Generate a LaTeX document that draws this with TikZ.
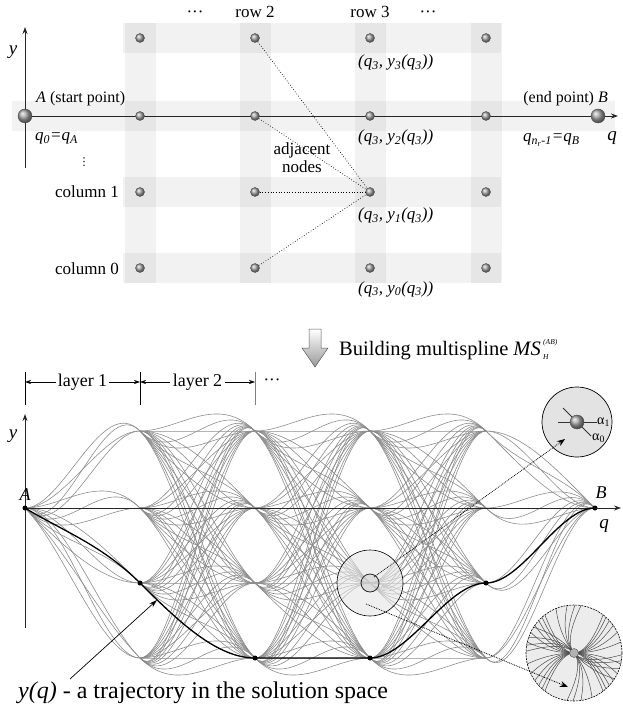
\documentclass[tikz,border=0pt]{standalone}
\usepackage{fontspec}
\setmainfont{Liberation Serif}
\newfontfamily\dejavu{DejaVu Sans}
\usetikzlibrary{arrows.meta}
\newcommand\fsz[1]{\fontsize{#1}{#1}\selectfont}
\newcommand\qlab[1]{\textit{(q\textsubscript{3}, y\textsubscript{#1}(q\textsubscript{3}))}}
\begin{document}
\begin{tikzpicture}[x=1pt,y=-1pt,
  gband/.style={fill=black,fill opacity=0.05},
  ballnode/.style={circle,inner sep=0pt,minimum size=9pt,ball color=gray!70,draw=black!70,line width=0.4pt},
  bigball/.style={ballnode,minimum size=14pt},
  lbl/.style={inner sep=0pt,font=\fsz{17}},
  axisline/.style={line width=0.9pt,black!85,-{Stealth[length=7pt,width=5pt]}},
  adj/.style={dotted,line width=0.7pt},
  gcurve/.style={gray!90,line width=0.6pt},
  darkcurve/.style={black!70,line width=0.5pt},
  traj/.style={black,line width=1.3pt},
  blackdot/.style={circle,fill=black,inner sep=0pt,minimum size=5pt},
  dotarrow/.style={densely dotted,line width=0.8pt,-{Stealth[length=8pt,width=6pt]}},
  layarrow/.style={line width=0.6pt,-{Stealth[length=6pt,width=4pt]}},
]
\useasboundingbox (0,0) rectangle (622,708);

% ---------------- top grid ----------------
\fill[gband] (12,101) rectangle (615,131);
\foreach \y in {38,192,268} \fill[gband] (123,{\y-15}) rectangle (501,{\y+15});
\foreach \x in {140,255,370,486} \fill[gband] ({\x-15.5},23) rectangle ({\x+15.5},283);

\coordinate (ytop) at (25,27);
\coordinate (ybot) at (25,168);
\draw[axisline] (ybot) -- (ytop);
\coordinate (Aorig) at (25,116);
\coordinate (qend) at (618,116);
\draw[axisline] (Aorig) -- (qend);

\node[bigball] (A) at (Aorig) {};
\node[bigball] (B) at (598,116) {};
\foreach \c/\x in {1/140,2/255,3/370,4/486}
  \foreach \r/\y in {3/38,2/116,1/192,0/268}
    \node[ballnode] (n\c\r) at (\x,\y) {};

\foreach \r in {3,2,1,0} \draw[adj] (n2\r) -- (n31);

\node[lbl,anchor=base] at (195,18) {···};
\node[lbl,anchor=base] at (255,18) {row 2};
\node[lbl,anchor=base] at (370,18) {row 3};
\node[lbl,anchor=base] at (428,18) {···};
\node[lbl,font=\fsz{19}\itshape] at (13,52) {y};
\node[lbl,anchor=base west,font=\fsz{16}] at (36,103) {\textit{A} (start point)};
\node[lbl,anchor=base west,font=\fsz{17}\itshape] at (35,141) {q\textsubscript{0}=q\textsubscript{A}};
\node[lbl,font=\dejavu\fsz{11}] at (84,162) {⋮};
\node[lbl,anchor=base east] at (119,198) {column 1};
\node[lbl,anchor=base east] at (119,274) {column 0};
\node[lbl,anchor=base] at (302,155) {adjacent};
\node[lbl,anchor=base] at (302,173) {nodes};
\node[lbl,anchor=base west] at (358,67) {\qlab{3}};
\node[lbl,anchor=base west] at (358,142) {\qlab{2}};
\node[lbl,anchor=base west] at (358,220) {\qlab{1}};
\node[lbl,anchor=base west] at (358,293) {\qlab{0}};
\node[lbl,anchor=base east,font=\fsz{16}] at (608,103) {(end point) \textit{B}};
\node[lbl,anchor=base west,font=\fsz{17}\itshape] at (523,142) {q\textsubscript{n\textsubscript{r}-1}=q\textsubscript{B}};
\node[lbl,anchor=base,font=\fsz{19}\itshape] at (612,141) {q};

% ---------------- block arrow ----------------
\shade[top color=white,bottom color=gray!80,draw=gray!70!black,line width=0.5pt]
  (309,329) -- (321,329) -- (321,348) -- (328,348) -- (315,367) -- (302,348) -- (309,348) -- cycle;
\node[lbl,anchor=base west,font=\fsz{20.5}] (build) at (339,355)
  {Building multispline \textit{MS}};
\node[lbl,anchor=base west,font=\fsz{7.5}\itshape] (bsup) at ([xshift=2pt,yshift=11pt]build.base east) {(AB)};
\node[lbl,anchor=base west,font=\fsz{7.5}\itshape] (bsub) at ([xshift=2pt,yshift=-4pt]build.base east) {H};

% ---------------- layers ----------------
\coordinate (b0t) at (25,372); \coordinate (b0b) at (25,405); \coordinate (b0m) at (25,382);
\coordinate (b1t) at (140,372); \coordinate (b1b) at (140,405); \coordinate (b1m) at (140,382);
\coordinate (b2t) at (255,372); \coordinate (b2b) at (255,405); \coordinate (b2m) at (255,382);
\draw[line width=0.7pt] (b0t) -- (b0b);
\draw[line width=0.7pt] (b1t) -- (b1b);
\draw[line width=0.9pt,gray] (b2t) -- (b2b);
\node[lbl,font=\fsz{18},inner sep=2pt] (L1) at (82.5,382) {layer 1};
\node[lbl,font=\fsz{18},inner sep=3pt] (L2) at (197.5,382) {layer 2};
\draw[layarrow] (L1.west) -- (b0m);
\draw[layarrow] (L1.east) -- (b1m);
\draw[layarrow] (L2.west) -- (b1m);
\draw[layarrow] (L2.east) -- (b2m);
\node[lbl,font=\fsz{17}] at (272,382) {···};

% ---------------- gray spline network ----------------
\foreach \yb in {431,508,583,658}
 \foreach \ma in {0,-1}
  \foreach \mb in {0,-1}
   \draw[gcurve] (25,508) .. controls ({25+38.33},{508-\ma*38.33}) and ({140-38.33},{\yb+\mb*38.33}) .. (140,\yb);
\foreach \xa/\xb in {140/255,255/370,370/486}
 \foreach \ya in {431,508,583,658}
  \foreach \yb in {431,508,583,658}
   \foreach \ma in {0,-1}
    \foreach \mb in {0,-1}
     \draw[gcurve] (\xa,\ya) .. controls ({\xa+38.33},{\ya-\ma*38.33}) and ({\xb-38.33},{\yb+\mb*38.33}) .. (\xb,\yb);
\foreach \ya in {431,508,583,658}
 \foreach \ma in {0,-1}
  \foreach \mb in {0,-1}
   \draw[gcurve] (486,\ya) .. controls ({486+36.33},{\ya-\ma*36.33}) and ({595-36.33},{508+\mb*36.33}) .. (595,508);

% middle magnifier
\node[circle,minimum size=66pt,inner sep=0pt,draw=black,fill=gray!20,fill opacity=0.6,line width=0.6pt] (mag2) at (370,583) {};
\node[circle,minimum size=18pt,inner sep=0pt,draw=black!85,fill=gray!40,fill opacity=0.5,line width=0.8pt] (mag2s) at (370,583) {};

% axes
\coordinate (ybot2) at (25,628);
\coordinate (ytop2) at (25,414);
\draw[axisline] (ybot2) -- (ytop2);
\node[blackdot] (A2) at (25,508) {};
\node[blackdot] (B2) at (595,508) {};
\coordinate (qend2) at (621,508);
\draw[axisline] (A2.center) -- (qend2);

% trajectory
\node[blackdot] (t1) at (140,583) {};
\node[blackdot] (t2) at (255,658) {};
\node[blackdot] (t3) at (370,658) {};
\node[blackdot] (t4) at (486,583) {};
\draw[traj] (A2.center) .. controls (63,531) and (102,545) .. (t1.center)
  .. controls (178.3,621.3) and (216.7,658) .. (t2.center) -- (t3.center)
  .. controls (408.7,658) and (447.3,583) .. (t4.center)
  .. controls (522.3,583) and (558.7,508) .. (B2.center);

\node[lbl,font=\fsz{19}\itshape] at (13,436) {y};
\node[lbl,font=\fsz{18}\itshape] at (25,495) {A};
\node[lbl,font=\fsz{18}\itshape] at (601,493) {B};
\node[lbl,font=\fsz{19}\itshape] at (604,526) {q};

% top magnifier
\node[circle,minimum size=70pt,inner sep=0pt,fill=gray!22,draw=black,line width=0.7pt] (mag1) at (577,422) {};
\coordinate (h1) at (558,422); \coordinate (h2) at (597,422);
\coordinate (d1) at (563,408); \coordinate (d2) at (591,436);
\draw[line width=0.9pt,black!80] (h1) -- (h2);
\draw[line width=0.9pt,black!80] (d1) -- (d2);
\node[bigball] (mball) at (577,422) {};
\node[lbl,anchor=west,font=\fsz{14}] at (h2) {α\textsubscript{1}};
\node[lbl,anchor=west,font=\fsz{14}] at (592,438) {α\textsubscript{0}};

% lower-right magnifier
\coordinate (mag3) at (574,653);
\begin{scope}
  \clip (mag3) circle (48pt);
  \fill[gray!15] (mag3) circle (48pt);
  \foreach \c in {-0.045,-0.035,-0.026,-0.018,-0.011,-0.005,0.005,0.011,0.018,0.026,0.035,0.045}
    \draw[darkcurve] plot[domain=-52:52,samples=30] ({574+\x},{653+\c*\x*\x});
  \foreach \c in {-0.035,-0.024,-0.015,-0.007,0.007,0.015,0.024,0.035}
    \draw[darkcurve] plot[domain=-60:60,samples=30] ({574+0.64*\x-0.77*\c*\x*\x},{653+0.77*\x+0.64*\c*\x*\x});
\end{scope}
\draw[dash pattern=on 2pt off 1pt,line width=0.6pt] (mag3) circle (48pt);
\node[circle,minimum size=9pt,inner sep=0pt,fill=gray!60,draw=black!70] (mag3b) at (mag3) {};

% dotted arrows
\coordinate (da1s) at (374,577); \coordinate (da1e) at (565,439);
\draw[dotarrow] (da1s) -- (da1e);
\coordinate (da2s) at (366,604); \coordinate (da2e) at (568,687);
\draw[dotarrow] (da2s) -- (da2e);

% trajectory caption
\node[lbl,anchor=base west,font=\fsz{24}] (ycap) at (18,698) {\textit{y(q)} - a trajectory in the solution space};
\coordinate (ytail) at (70,679); \coordinate (ytip) at (157,600);
\draw[line width=0.7pt,-{Stealth[length=8pt,width=5pt]}] (ytail) -- (ytip);
\end{tikzpicture}
\end{document}
